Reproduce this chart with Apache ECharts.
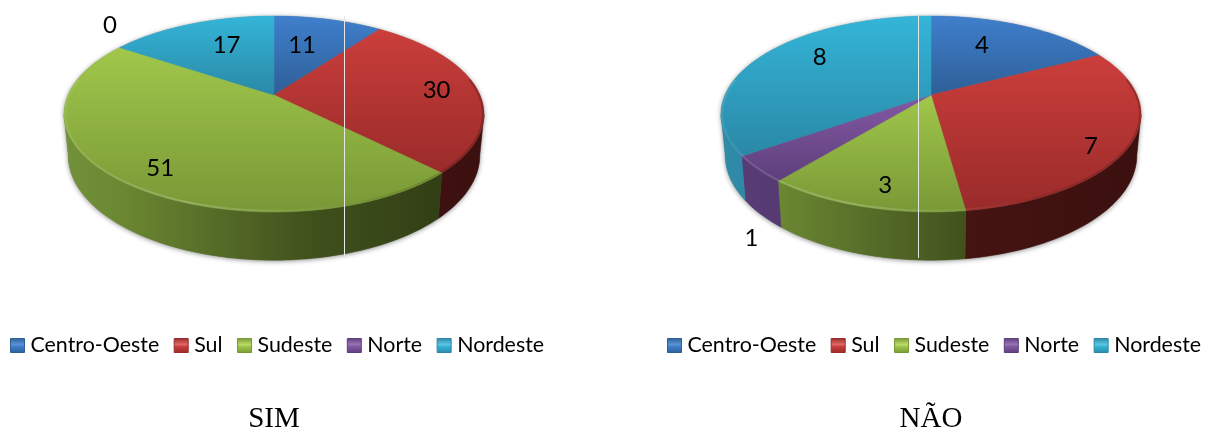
<!DOCTYPE html>
<html><head><meta charset="utf-8">
<style>html,body{margin:0;padding:0;background:#fff}#c{width:1205px;height:430px}</style>
<script src="https://cdn.jsdelivr.net/npm/echarts@6/dist/echarts.min.js"></script>
</head><body><div id="c"></div>
<script>
const categories = ['Centro-Oeste', 'Sul', 'Sudeste', 'Norte', 'Nordeste'];
const simValues = [11, 30, 51, 0, 17];
const naoValues = [4, 7, 3, 1, 8];
const pieTitles = ['SIM', 'NÃO'];

// ---- presentation ----
const pies = [
  { values: simValues, cx: 274, legendLeft: 10, streak: 344.5,
    labelR: [0.623, 0.80, 0.825, 1.283, 0.656], labelShift: [-4, 0, -4, 9.5, 5] },
  { values: naoValues, cx: 931, legendLeft: 667, streak: 918.5,
    labelR: [0.664, 0.853, 0.82, 1.35, 0.739], labelShift: [-6.7, 7, -2.4, -17, 10] }
];
const apexY = 95, K = 0.194, SCALE_X = 206, SCALE_Y = 94.3;
const FONT = 'Lato';
const topGrad = [['#3f7fcc', '#2e5f97'], ['#cb3e3b', '#992b2a'], ['#a1c74b', '#789836'], ['#8459a4', '#5d3f7b'], ['#34b5d8', '#2a88a6']];
const iconGlow = ['#5a94d8', '#e06a66', '#bcdc68', '#9a74b8', '#5cc8e4'];
const wallStops = [
  [[0, '#2b5a90'], [1, '#1a3a60']],
  [[0, '#7c2b29'], [0.55, '#451413'], [1, '#3b100e']],
  [[0, '#72923a'], [0.15, '#6a8631'], [0.35, '#566d28'], [0.6, '#3f501c'], [1, '#2e3913']],
  [[0, '#5a3d78'], [1, '#3a2650']],
  [[0, '#2f8ba8'], [1, '#1b6a82']]
];

function proj(pie, deg, r) {
  const t = deg * Math.PI / 180, u = r * Math.sin(t), v = r * Math.cos(t), d = 1 + K * v;
  return [pie.cx + SCALE_X * u / d, apexY - SCALE_Y * v / d];
}
function low(pie, p) { return [pie.cx + (p[0] - pie.cx) * 0.98, 135 + 1.07 * (p[1] - apexY)]; }
function arc(pie, a, b) {
  const out = [], n = Math.max(2, Math.ceil(Math.abs(b - a) / 1.5));
  for (let i = 0; i <= n; i++) out.push(proj(pie, a + (b - a) * i / n, 1));
  return out;
}
const W0 = 101.2, W1 = 258.8;

function sliceRender(pieIdx, catIdx) {
  return function (params, api) {
    const pie = pies[pieIdx], vals = pie.values;
    const total = vals.reduce((s, x) => s + x, 0);
    const value = api.value(0);
    const before = vals.slice(0, catIdx).reduce((s, x) => s + x, 0);
    const a = before / total * 360, b = (before + value) / total * 360;
    const children = [];
    const lo = Math.max(a, W0), hi = Math.min(b, W1);
    if (value > 0 && hi > lo) {
      const top = arc(pie, lo, hi);
      const bot = top.map(p => low(pie, p)).reverse();
      const wallFill = { type: 'linear', global: true, x: pie.cx - 210, y: 0, x2: pie.cx + 210, y2: 0,
        colorStops: wallStops[catIdx].map(s => ({ offset: s[0], color: s[1] })) };
      children.push({ type: 'polygon', shape: { points: top.concat(bot) }, style: { fill: wallFill, stroke: wallFill, lineWidth: 0.5 }, z2: 1 });
    }
    if (value > 0) {
      const pts = [[pie.cx, apexY]].concat(arc(pie, a, b));
      const fill = { type: 'linear', x: 0, y: 0, x2: 0, y2: 1,
        colorStops: [{ offset: 0, color: topGrad[catIdx][0] }, { offset: 1, color: topGrad[catIdx][1] }] };
      children.push({ type: 'polygon', shape: { points: pts }, style: { fill: fill, stroke: fill, lineWidth: 0.5 }, z2: 2 });
      const rlo = Math.max(a, 80), rhi = Math.min(b, 280);
      if (rhi > rlo) {
        const rim = { type: 'linear', global: true, x: pie.cx + 210, y: 0, x2: pie.cx - 210, y2: 0, colorStops: [
          { offset: 0, color: 'rgba(0,0,0,0.22)' }, { offset: 0.25, color: 'rgba(0,0,0,0.08)' },
          { offset: 0.42, color: 'rgba(255,255,255,0.06)' }, { offset: 0.7, color: 'rgba(255,255,255,0.20)' }, { offset: 1, color: 'rgba(255,255,255,0.08)' }] };
        const inner = arc(pie, rlo, rhi).map(p => [p[0] + (pie.cx - p[0]) * 0.005, p[1] + (apexY + 19 - p[1]) * 0.012]);
        children.push({ type: 'polyline', shape: { points: inner }, style: { fill: null, stroke: rim, lineWidth: 2 }, z2: 3 });
      }
    }
    const mid = (a + b) / 2 + pie.labelShift[catIdx];
    const lp = proj(pie, mid, pie.labelR[catIdx]);
    children.push({ type: 'text', z2: 10, style: { text: String(value), x: lp[0], y: lp[1] + 1, align: 'center', verticalAlign: 'middle',
      fill: '#000', font: '400 24px ' + FONT } });
    return { type: 'group', children: children };
  };
}

function shadowRender(pieIdx) {
  return function () {
    const pie = pies[pieIdx];
    const bot = arc(pie, W0, W1).map(p => low(pie, p));
    return { type: 'polygon', shape: { points: arc(pie, W1, W0 + 360).concat(bot) },
      style: { fill: '#888', shadowBlur: 5, shadowColor: 'rgba(0,0,0,0.45)', shadowOffsetY: 1 } };
  };
}

const series = [];
pies.forEach((pie, pi) => {
  series.push({ type: 'custom', name: 'shadow' + pi, coordinateSystem: 'none', silent: true, z: 1, data: [[0]], renderItem: shadowRender(pi) });
  categories.forEach((name, ci) => {
    series.push({ type: 'custom', name: name, coordinateSystem: 'none', silent: true, z: 2, animation: false,
      data: [[pie.values[ci]]], renderItem: sliceRender(pi, ci),
      itemStyle: { color: topGrad[ci][0] } });
  });
});

const legendData = categories.map((name, ci) => ({ name: name, icon: 'rect', itemStyle: {
  color: { type: 'linear', x: 0, y: 0, x2: 0, y2: 1, colorStops: [
    { offset: 0, color: topGrad[ci][1] }, { offset: 0.45, color: iconGlow[ci] }, { offset: 0.55, color: topGrad[ci][0] }, { offset: 1, color: topGrad[ci][1] }] },
  borderColor: topGrad[ci][1], borderWidth: 1 } }));

const option = {
  animation: false,
  backgroundColor: '#fff',
  title: pies.map((pie, i) => ({ text: pieTitles[i], left: pie.cx, top: 405, textAlign: 'center', padding: 0,
    textStyle: { fontFamily: 'Liberation Serif', fontWeight: 'normal', fontSize: 29, color: '#000' } })),
  legend: pies.map(pie => ({ left: pie.legendLeft, top: 335, width: 620, padding: 0, itemWidth: 14, itemHeight: 14, itemGap: 14.5, selectedMode: false,
    data: legendData, textStyle: { fontFamily: FONT, fontSize: 21.4, color: '#000', padding: [0, 0, 0, 1] } })),
  graphic: pies.map(pie => ({ type: 'line', silent: true, z: 50, shape: { x1: pie.streak, y1: 16, x2: pie.streak, y2: 258 },
    style: { stroke: '#e6e6e6', lineWidth: 1 } })),
  series: series
};
echarts.init(document.getElementById('c'), null, { renderer: 'canvas' }).setOption(option);
</script></body></html>
